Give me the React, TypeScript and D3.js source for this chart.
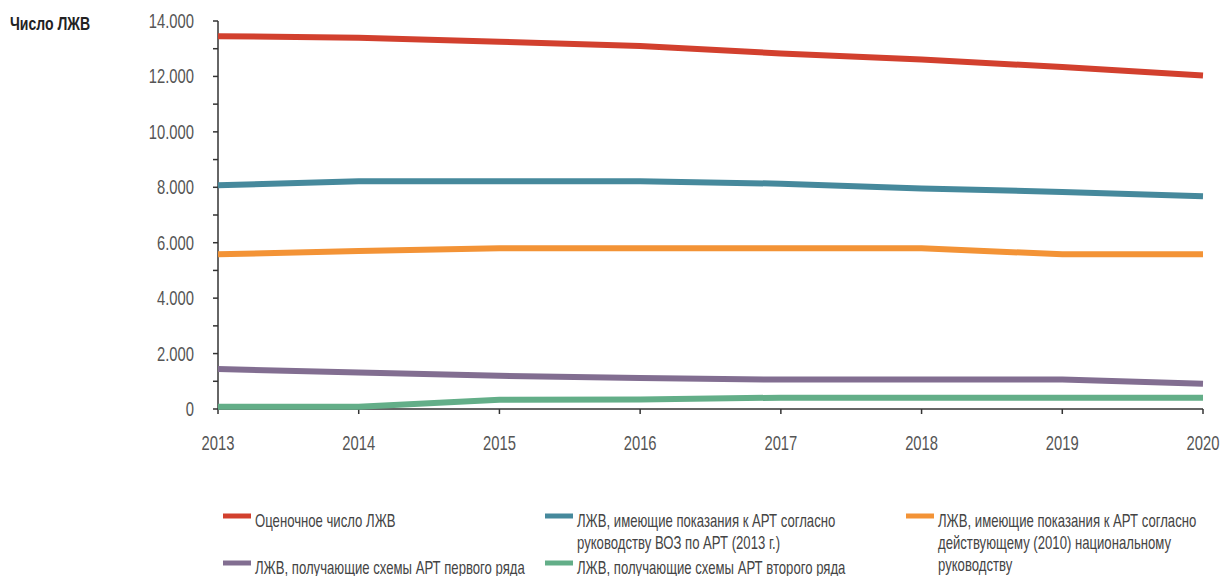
import React from 'react';
import * as d3 from 'd3';

// chart data
const years = [2013, 2014, 2015, 2016, 2017, 2018, 2019, 2020];
const estimated = [13450, 13400, 13250, 13100, 12830, 12610, 12340, 12030];
const eligibleWho = [8070, 8220, 8220, 8220, 8130, 7960, 7830, 7680];
const eligibleNational = [5580, 5700, 5800, 5800, 5800, 5800, 5580, 5580];
const firstLine = [1440, 1320, 1200, 1120, 1060, 1060, 1060, 910];
const secondLine = [80, 80, 330, 340, 410, 410, 410, 410];

const yMajorTicks = [0, 2000, 4000, 6000, 8000, 10000, 12000, 14000];
const yMinorTicks = [1000, 3000, 5000, 7000, 9000, 11000, 13000];
const yTitle = 'Число ЛЖВ';

const series = [
  { key: 'estimated', values: estimated, color: '#d2402e', label: ['Оценочное число ЛЖВ'] },
  {
    key: 'who',
    values: eligibleWho,
    color: '#46899c',
    label: ['ЛЖВ, имеющие показания к АРТ согласно', 'руководству ВОЗ по АРТ (2013 г.)'],
  },
  {
    key: 'national',
    values: eligibleNational,
    color: '#f39336',
    label: ['ЛЖВ, имеющие показания к АРТ согласно', 'действующему (2010) национальному', 'руководству'],
  },
  { key: 'first', values: firstLine, color: '#826e91', label: ['ЛЖВ, получающие схемы АРТ первого ряда'] },
  { key: 'second', values: secondLine, color: '#63ae88', label: ['ЛЖВ, получающие схемы АРТ второго ряда'] },
];

const W = 1224;
const H = 576;
const FONT = '"Liberation Sans", Arial, sans-serif';

const fmt = d3
  .formatLocale({ decimal: ',', thousands: '.', grouping: [3], currency: ['', ''] })
  .format(',');

const x = d3.scaleLinear().domain([2013, 2020]).range([218, 1203]);
const y = d3.scaleLinear().domain([0, 14000]).range([409, 21]);

const line = d3
  .line<number>()
  .x((_, i) => x(years[i]))
  .y((d) => y(d))
  .curve(d3.curveLinear);

// legend slots: [swatch x, first line baseline]
const legendPos: Record<string, [number, number]> = {
  estimated: [223, 527],
  who: [545, 527],
  national: [906, 527],
  first: [223, 574],
  second: [545, 574],
};

// condensed text: the page has no narrow face, so squeeze horizontally
const Txt = ({ x, y, sx = 0.74, children, ...rest }: any) => (
  <g transform={`translate(${x},${y}) scale(${sx},1)`}>
    <text x={0} y={0} fontFamily={FONT} {...rest}>
      {children}
    </text>
  </g>
);

export default function App() {
  return (
    <div style={{ position: 'absolute', left: 0, top: 0 }}>
      <svg width={W} height={H} style={{ display: 'block', background: '#fff' }}>
        <Txt x={10} y={30} sx={0.78} fontWeight="bold" fontSize={18} fill="#222">
          {yTitle}
        </Txt>

        {/* y axis */}
        <line x1={x(2013)} x2={x(2013)} y1={y(14000)} y2={y(0)} stroke="#333" strokeWidth={1.5} />
        {yMajorTicks.map((t) => (
          <g key={'ym' + t}>
            <line x1={x(2013) - 5} x2={x(2013)} y1={y(t)} y2={y(t)} stroke="#333" strokeWidth={1.5} />
            <Txt x={194} y={y(t) + 7} textAnchor="end" fontSize={20} fill="#555">
              {fmt(t)}
            </Txt>
          </g>
        ))}
        {yMinorTicks.map((t) => (
          <line key={'yn' + t} x1={x(2013) - 5} x2={x(2013)} y1={y(t)} y2={y(t)} stroke="#333" strokeWidth={1.5} />
        ))}

        {/* x axis */}
        <line x1={x(2013)} x2={x(2020)} y1={y(0)} y2={y(0)} stroke="#333" strokeWidth={1.5} />
        {years.map((yr) => (
          <g key={'x' + yr}>
            <line x1={x(yr)} x2={x(yr)} y1={y(0)} y2={y(0) + 5} stroke="#333" strokeWidth={1.5} />
            <Txt x={x(yr)} y={450} textAnchor="middle" fontSize={20} fill="#555">
              {yr}
            </Txt>
          </g>
        ))}

        {/* lines */}
        {series.map((s) => (
          <path key={s.key} d={line(s.values) || ''} fill="none" stroke={s.color} strokeWidth={6} />
        ))}

        {/* legend */}
        {series.map((s) => {
          const [lx, ly] = legendPos[s.key];
          return (
            <g key={'lg' + s.key}>
              <line x1={lx} x2={lx + 28} y1={ly - 11} y2={ly - 11} stroke={s.color} strokeWidth={5} />
              <Txt x={lx + 32} y={ly} sx={0.73} fontSize={18} fill="#444">
                {s.label.map((l, i) => (
                  <tspan key={i} x={0} y={i * 22}>
                    {l}
                  </tspan>
                ))}
              </Txt>
            </g>
          );
        })}
      </svg>
    </div>
  );
}
